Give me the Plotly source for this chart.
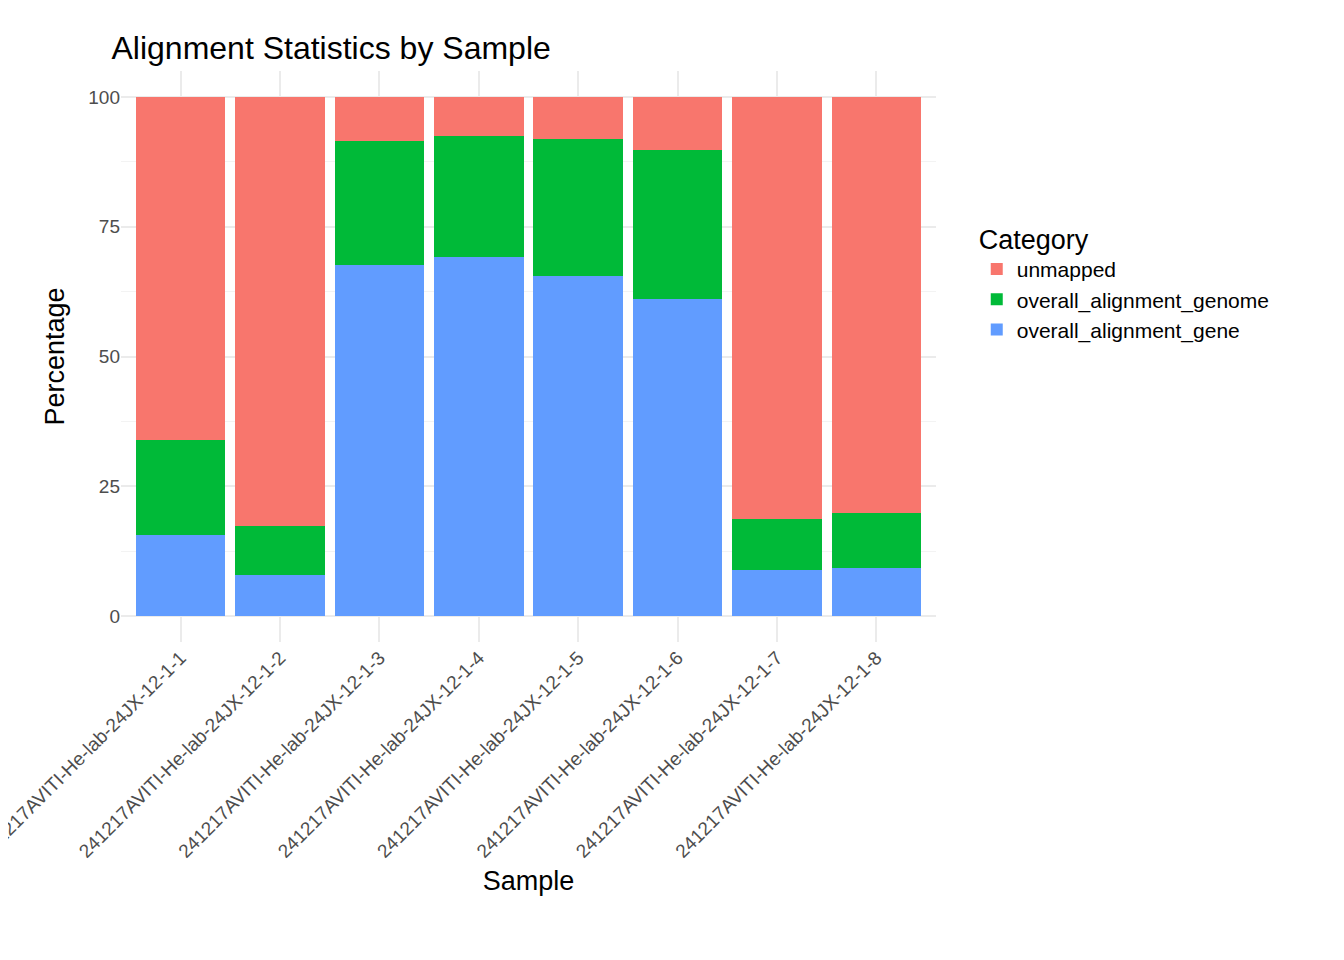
import plotly.graph_objects as go

samples = [f"241217AVITI-He-lab-24JX-12-1-{i}" for i in range(1, 9)]
gene = [15.6, 7.9, 67.6, 69.2, 65.5, 61.1, 8.9, 9.2]
genome = [18.3, 9.4, 23.9, 23.3, 26.4, 28.7, 9.8, 10.6]
unmapped = [round(100 - a - b, 1) for a, b in zip(gene, genome)]

fig = go.Figure()
fig.add_trace(go.Bar(x=samples, y=gene, name="overall_alignment_gene", marker_color="#619CFF", marker_line_width=0))
fig.add_trace(go.Bar(x=samples, y=genome, name="overall_alignment_genome", marker_color="#00BA38", marker_line_width=0))
fig.add_trace(go.Bar(x=samples, y=unmapped, name="unmapped", marker_color="#F8766D", marker_line_width=0))

fig.update_layout(
    barmode="stack", bargap=0.1,
    width=1344, height=960,
    margin=dict(l=113, r=416, t=63, b=326),
    plot_bgcolor="white", paper_bgcolor="white",
    font=dict(family="Liberation Sans, Arial", size=19, color="black"),
    title=dict(text="Alignment Statistics by Sample", x=0.077, xanchor="left", y=0.97, font=dict(size=32)),
    xaxis=dict(title=dict(text="Sample", font=dict(size=27), standoff=10), tickangle=-45,
               tickfont=dict(size=19, color="#4d4d4d"), showgrid=True, gridcolor="#ebebeb", gridwidth=2,
               range=[-0.6, 7.6], ticks="", automargin=False),
    yaxis=dict(title=dict(text="Percentage", font=dict(size=27)), range=[-5, 105],
               tickvals=[0, 25, 50, 75, 100], tickfont=dict(size=19, color="#4d4d4d"),
               showgrid=True, gridcolor="#ebebeb", gridwidth=2, zeroline=False,
               minor=dict(tickvals=[12.5, 37.5, 62.5, 87.5], showgrid=True, gridcolor="#f3f3f3", gridwidth=1)),
    legend=dict(title=dict(text="Category", font=dict(size=27)), traceorder="reversed",
                x=1.05, xanchor="left", y=0.75, yanchor="top", font=dict(size=21)),
)

fig.write_html("out.html")
